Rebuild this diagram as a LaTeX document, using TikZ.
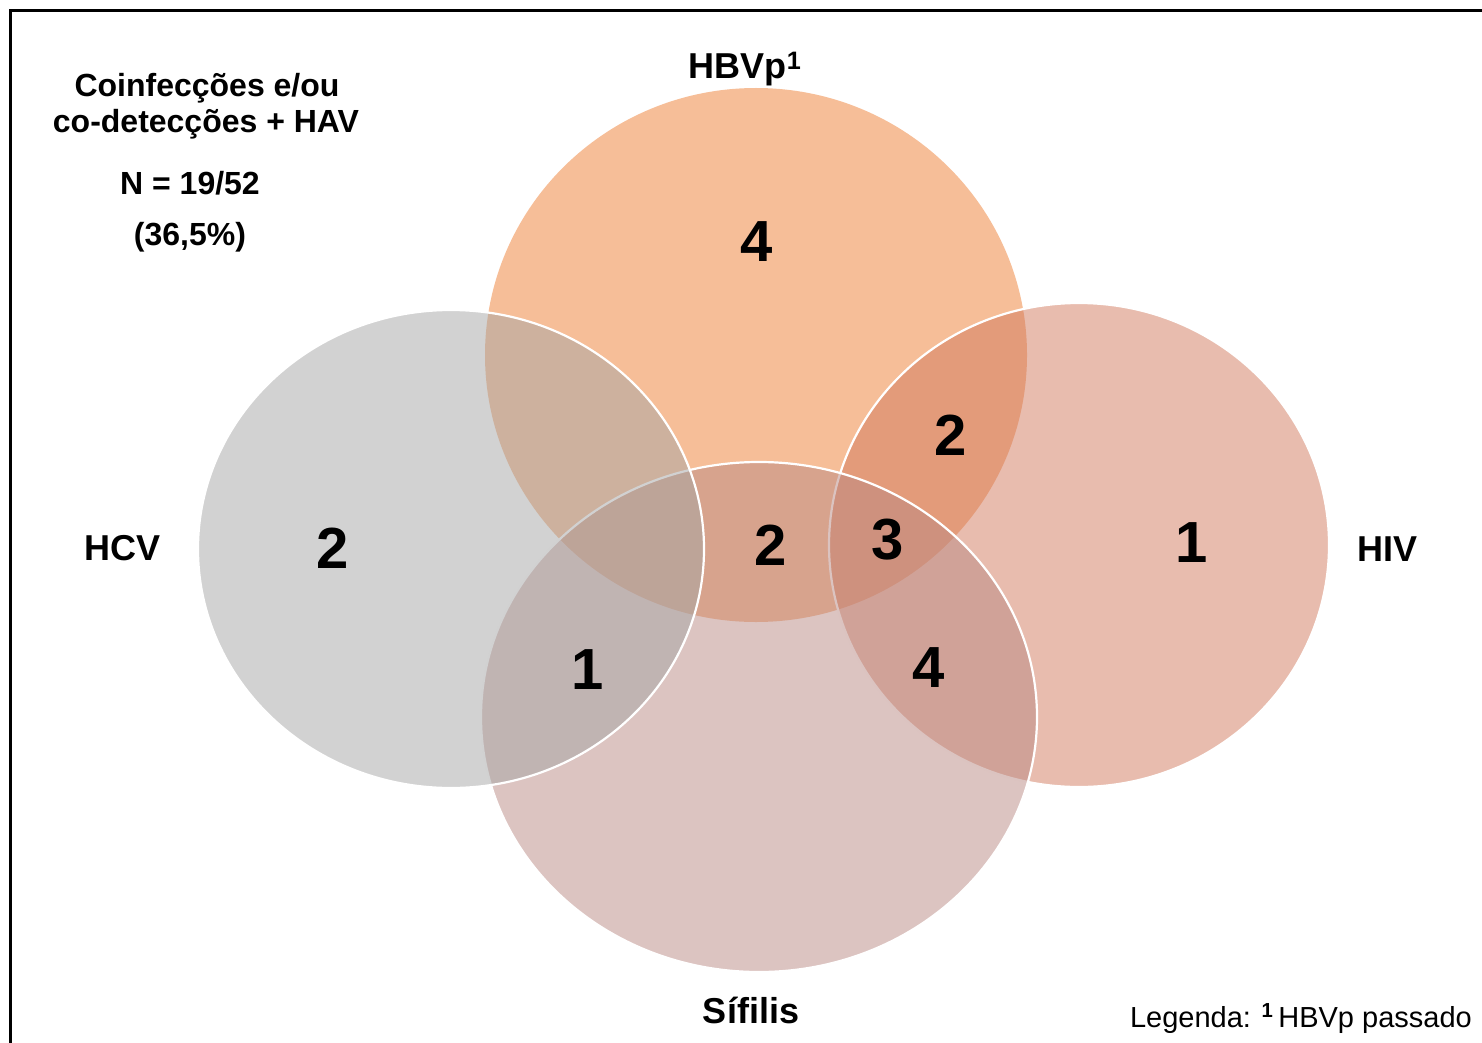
\documentclass[tikz,border=0pt]{standalone}
\usepackage{fontspec}
\setmainfont{Liberation Sans}
\usepackage{xcolor}
\usepackage{tikz}
\definecolor{hbvorange}{HTML}{ED7D31}
\definecolor{hivrose}{HTML}{D1795D}
\definecolor{sifmauve}{HTML}{B98983}
\definecolor{hcvgrey}{HTML}{A5A5A5}
\tikzstyle{venn} = [fill opacity=0.5, draw=white, line width=2.2pt]
\tikzstyle{count} = [font=\fontsize{58}{60}\selectfont\bfseries, inner sep=0pt]
\tikzstyle{setlabel} = [font=\fontsize{36}{40}\selectfont\bfseries, anchor=base, inner sep=0pt]
\tikzstyle{headline} = [font=\fontsize{32}{37}\selectfont\bfseries, anchor=base, inner sep=0pt]

\begin{document}
\begin{tikzpicture}[x=1pt,y=-1pt]
        \useasboundingbox (0,0) rectangle (1482,1043);
        \draw[line width=3pt] (10,1080) |- (1520,11);
        % the four sets
        \fill[hbvorange, fill opacity=0.5] (756,355) ellipse [x radius=271pt, y radius=267pt];
        \filldraw[venn, fill=hivrose] (1079,545) ellipse [x radius=250pt, y radius=242pt];
        \filldraw[venn, fill=sifmauve] (759,717) ellipse [x radius=278pt, y radius=255pt];
        \filldraw[venn, fill=hcvgrey] (451,549) ellipse [x radius=253pt, y radius=239pt];
        % counts
        \node[count] (hbvonly) at (757,242) {4};
        \node[count] (hcvonly) at (333,548) {2};
        \node[count] (hbvhiv) at (951,435) {2};
        \node[count] (hbvsif) at (771,545) {2};
        \node[count] (hbvhivsif) at (888,540) {3};
        \node[count] (hivonly) at (1192,543) {1};
        \node[count] (hcvsif) at (588,670) {1};
        \node[count] (hivsif) at (929,668) {4};
        % set names
        \node[setlabel] (hbvname) at (745,79) {HBVp\textsuperscript{1}};
        \node[setlabel] (hcvname) at (123,560) {HCV};
        \node[setlabel] (hivname) at (1387,561) {HIV};
        \node[setlabel] (sifname) at (751,1023) {Sífilis};
        % heading
        \node[headline] (headone) at (207,97) {Coinfecções e/ou};
        \node[headline] (headtwo) at (206,133) {co-detecções + HAV};
        \node[headline] (total) at (190,195) {N = 19/52};
        \node[headline] (share) at (190,245) {(36,5\%)};
        \node[font=\fontsize{29}{31}\selectfont, anchor=base east, inner sep=0pt] (legend) at (1472,1027) {Legenda: \textsuperscript{\bfseries 1}\,HBVp passado};
\end{tikzpicture}
\end{document}
